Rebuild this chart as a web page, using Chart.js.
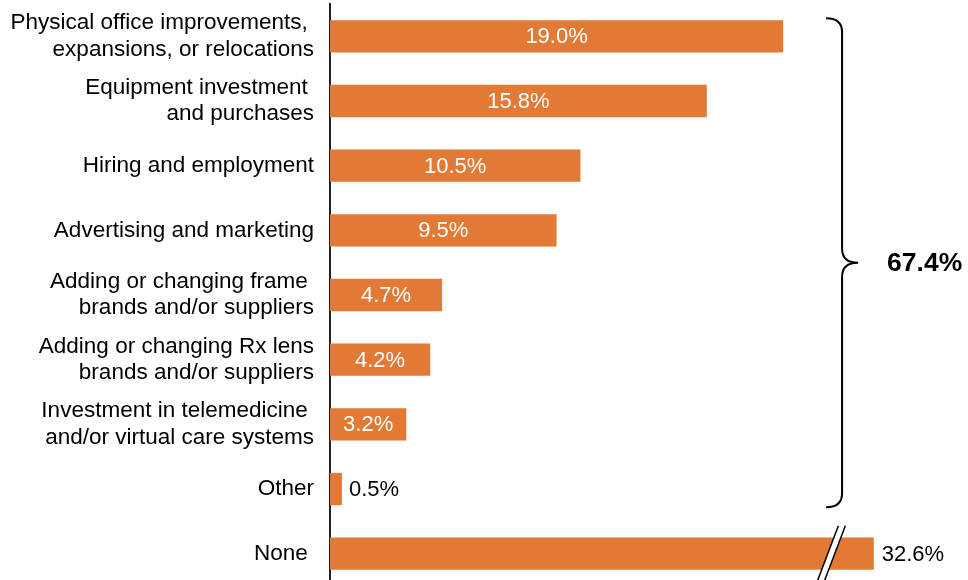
<!DOCTYPE html>
<html>
<head>
<meta charset="utf-8">
<script src="https://cdn.jsdelivr.net/npm/chart.js@4/dist/chart.umd.min.js"></script>
<style>
  html, body { margin: 0; padding: 0; background: #fff; overflow: hidden; }
  #wrap { position: relative; width: 968px; height: 586px; }
</style>
</head>
<body>
<div id="wrap"><canvas id="chart"></canvas></div>
<script>
// Categories (multi-line labels), values in percent
const categories = [
  ["Physical office improvements, ", "expansions, or relocations"],
  ["Equipment investment ", "and purchases"],
  "Hiring and employment",
  "Advertising and marketing",
  ["Adding or changing frame ", "brands and/or suppliers"],
  ["Adding or changing Rx lens", "brands and/or suppliers"],
  ["Investment in telemedicine ", "and/or virtual care systems"],
  "Other",
  "None "
];
const values = [19.0, 15.8, 10.5, 9.5, 4.7, 4.2, 3.2, 0.5, 32.6];

// bracket covers the first 8 categories
const bracketTotal = "67.4%";
const bracketFrom = 0;
const bracketTo = 7;

// the None bar is cut with an axis break
const breakCap = 22.8;
const breakAt = 21.0;
const axisMax = 26.75;

const orange = "#E27934";
const font = "'Liberation Sans', Arial, sans-serif";

const shownValues = values.map(v => Math.min(v, breakCap));

// value labels, break mark and bracket
const annotations = {
  id: "annotations",
  afterDatasetsDraw(chart) {
    const ctx = chart.ctx;
    const x = chart.scales.x;
    const bars = chart.getDatasetMeta(0).data;

    ctx.save();
    ctx.font = "22px " + font;
    ctx.textBaseline = "middle";
    bars.forEach((bar, i) => {
      const txt = values[i].toFixed(1) + "%";
      if (values[i] > breakCap) {
        ctx.fillStyle = "#000";
        ctx.textAlign = "left";
        ctx.fillText(txt, bar.x + 8, bar.y + 1);
      } else if (values[i] < 2) {
        ctx.fillStyle = "#000";
        ctx.textAlign = "left";
        ctx.fillText(txt, bar.x + 7, bar.y + 1);
      } else {
        ctx.fillStyle = "#fff";
        ctx.textAlign = "center";
        ctx.fillText(txt, (bar.base + bar.x) / 2, bar.y + 1);
      }
    });

    // axis break on capped bar
    bars.forEach((bar, i) => {
      if (values[i] <= breakCap) return;
      const cx = x.getPixelForValue(breakAt);
      const top = bar.y - 28, bot = bar.y + 30;
      const slant = 11, gap = 7;
      ctx.fillStyle = "#fff";
      ctx.beginPath();
      ctx.moveTo(cx + slant - gap / 2, top);
      ctx.lineTo(cx + slant + gap / 2, top);
      ctx.lineTo(cx - slant + gap / 2, bot);
      ctx.lineTo(cx - slant - gap / 2, bot);
      ctx.closePath();
      ctx.fill();
      ctx.strokeStyle = "#000";
      ctx.lineWidth = 1.5;
      ctx.beginPath();
      ctx.moveTo(cx + slant - gap / 2, top);
      ctx.lineTo(cx - slant - gap / 2, bot);
      ctx.moveTo(cx + slant + gap / 2, top);
      ctx.lineTo(cx - slant + gap / 2, bot);
      ctx.stroke();
    });

    // curly bracket
    const half = bars[0].height / 2;
    const y0 = bars[bracketFrom].y - half - 2;
    const y1 = bars[bracketTo].y + half + 2;
    const ym = (y0 + y1) / 2;
    const bx0 = x.getPixelForValue(20.8);
    const bx = bx0 + 16;
    const r = 14;
    ctx.strokeStyle = "#000";
    ctx.lineWidth = 2;
    ctx.beginPath();
    ctx.moveTo(bx0, y0);
    ctx.quadraticCurveTo(bx, y0, bx, y0 + r);
    ctx.lineTo(bx, ym - r);
    ctx.quadraticCurveTo(bx, ym, bx + 16, ym);
    ctx.quadraticCurveTo(bx, ym, bx, ym + r);
    ctx.lineTo(bx, y1 - r);
    ctx.quadraticCurveTo(bx, y1, bx0, y1);
    ctx.stroke();

    ctx.fillStyle = "#000";
    ctx.font = "bold 26.5px " + font;
    ctx.textAlign = "left";
    ctx.fillText(bracketTotal, bx + 45, ym + 1);
    ctx.restore();
  }
};

new Chart(document.getElementById("chart"), {
  type: "bar",
  data: {
    labels: categories,
    datasets: [{
      data: shownValues,
      backgroundColor: orange,
      borderWidth: 0,
      barPercentage: 0.5,
      categoryPercentage: 1.0
    }]
  },
  options: {
    indexAxis: "y",
    responsive: true,
    maintainAspectRatio: false,
    animation: false,
    layout: { padding: { top: 4, right: 0, bottom: 0, left: 0 } },
    plugins: {
      legend: { display: false },
      tooltip: { enabled: false }
    },
    scales: {
      x: {
        display: false,
        min: 0,
        max: axisMax
      },
      y: {
        grid: { display: false, drawTicks: false },
        border: { display: true, color: "#222", width: 2 },
        ticks: {
          color: "#000",
          padding: 16,
          font: { family: font, size: 22.5, lineHeight: 1.18 }
        },
        afterFit: (scale) => {
          scale.width = 330;
          scale.paddingTop = 0;
          scale.paddingBottom = 0;
        }
      }
    }
  },
  plugins: [annotations]
});
</script>
</body>
</html>
